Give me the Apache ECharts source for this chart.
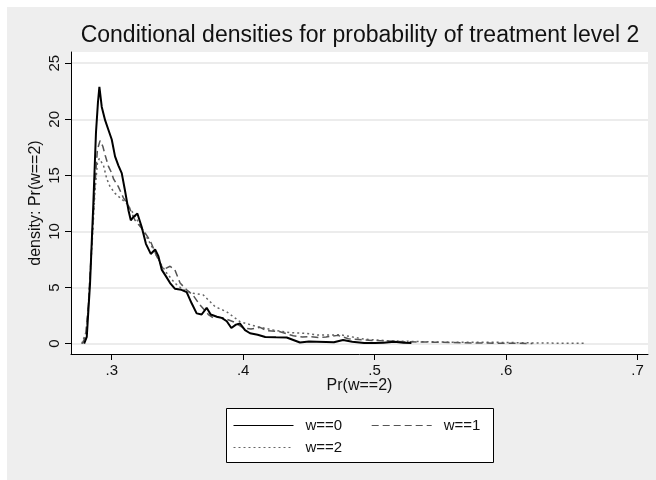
<!DOCTYPE html>
<html>
<head>
<meta charset="utf-8">
<script src="https://cdn.jsdelivr.net/npm/echarts@6/dist/echarts.min.js"></script>
<style>
  html, body { margin: 0; padding: 0; background: #fff; }
  #main { position: absolute; left: 7px; top: 7px; width: 649px; height: 473px; background: #eeeeee; }
</style>
</head>
<body>
<div id="main"></div>
<script>
// kernel density estimates
const w0X = [0.2790, 0.2810, 0.2835, 0.2860, 0.2880, 0.2895, 0.2906, 0.2924, 0.2950, 0.2975, 0.3000, 0.3025, 0.3050, 0.3076, 0.3100, 0.3127, 0.3145, 0.3165, 0.3195, 0.3228, 0.3260, 0.3297, 0.3330, 0.3355, 0.3380, 0.3413, 0.3444, 0.3480, 0.3530, 0.3570, 0.3608, 0.3646, 0.3684, 0.3722, 0.3753, 0.3800, 0.3837, 0.3875, 0.3910, 0.3945, 0.3976, 0.4014, 0.4052, 0.4110, 0.4168, 0.4250, 0.4331, 0.4432, 0.4500, 0.4560, 0.4630, 0.4690, 0.4760, 0.4830, 0.4920, 0.5000, 0.5067, 0.5150, 0.5220, 0.5280]
const w0Y = [0, 0.6, 5.4, 12.5, 18.8, 21.5, 22.9, 21.1, 19.9, 19.05, 18.2, 16.7, 15.9, 15.2, 13.7, 11.9, 11.0, 11.3, 11.6, 10.4, 8.9, 8.0, 8.4, 7.8, 6.6, 6.0, 5.4, 4.9, 4.8, 4.6, 3.6, 2.7, 2.6, 3.2, 2.6, 2.4, 2.3, 2.0, 1.4, 1.7, 1.8, 1.2, 0.93, 0.8, 0.6, 0.57, 0.55, 0.1, 0.2, 0.18, 0.15, 0.12, 0.32, 0.18, 0.06, 0.06, 0.08, 0.18, 0.08, 0.05]

const w1X = [0.2775, 0.2800, 0.2823, 0.2848, 0.2873, 0.2891, 0.2911, 0.2932, 0.2950, 0.2975, 0.3000, 0.3013, 0.3050, 0.3089, 0.3127, 0.3177, 0.3240, 0.3292, 0.3342, 0.3393, 0.3444, 0.3480, 0.3520, 0.3570, 0.3620, 0.3671, 0.3735, 0.3773, 0.3800, 0.3849, 0.3925, 0.4000, 0.4060, 0.4128, 0.4179, 0.4280, 0.4381, 0.4450, 0.4508, 0.4580, 0.4630, 0.4720, 0.4800, 0.4980, 0.5210, 0.5500, 0.5790, 0.6000, 0.6200]
const w1Y = [0, 0.6, 3.6, 8.9, 14.3, 17.3, 18.1, 17.6, 16.8, 15.8, 15.2, 14.7, 14.0, 13.0, 12.3, 11.0, 10.1, 9.2, 7.8, 6.6, 6.9, 6.6, 5.4, 4.8, 4.3, 3.45, 2.6, 2.3, 2.35, 2.3, 1.96, 1.4, 1.3, 1.46, 1.16, 1.07, 0.7, 0.6, 0.62, 0.55, 0.59, 0.74, 0.44, 0.29, 0.18, 0.12, 0.06, 0.04, 0.02]

const w2X = [0.2772, 0.2810, 0.2848, 0.2873, 0.2891, 0.2905, 0.2937, 0.2962, 0.2987, 0.3025, 0.3063, 0.3114, 0.3165, 0.3215, 0.3266, 0.3317, 0.3368, 0.3418, 0.3480, 0.3545, 0.3620, 0.3697, 0.3786, 0.3874, 0.3976, 0.4103, 0.4229, 0.4356, 0.4483, 0.4570, 0.4740, 0.4920, 0.5096, 0.5360, 0.5650, 0.5940, 0.6230, 0.6600]
const w2Y = [0, 1.2, 8.4, 13.7, 16.1, 16.5, 15.9, 14.7, 14.0, 13.4, 13.0, 12.5, 11.6, 10.6, 9.5, 8.4, 7.2, 6.3, 5.4, 4.8, 4.5, 4.34, 3.3, 2.85, 1.96, 1.52, 1.22, 0.98, 0.92, 0.77, 0.79, 0.41, 0.26, 0.18, 0.12, 0.12, 0.06, 0.03]

const xTicks = [0.3, 0.4, 0.5, 0.6, 0.7]
const yTicks = [0, 5, 10, 15, 20, 25]

const pairs = (xs, ys) => xs.map((x, i) => [x, ys[i]])
const font = '"Liberation Sans", Arial, sans-serif'
const noDot = { color: 'rgba(0,0,0,0)', borderWidth: 0, opacity: 0 }

const chart = echarts.init(document.getElementById('main'))
chart.setOption({
  animation: false,
  textStyle: { fontFamily: font },
  title: {
    text: 'Conditional densities for probability of treatment level 2',
    left: 353,
    top: 17,
    padding: 0,
    textAlign: 'center',
    textStyle: { fontFamily: font, fontSize: 23, fontWeight: 'normal', color: '#111' },
  },
  grid: { left: 64, top: 45, right: 8, bottom: 126, show: true, backgroundColor: '#fff', borderWidth: 0 },
  xAxis: {
    type: 'value',
    min: 0.269,
    max: 0.708,
    name: 'Pr(w==2)',
    nameLocation: 'middle',
    nameGap: 24,
    nameMoveOverlap: false,
    nameTextStyle: { fontFamily: font, fontSize: 16, color: '#111' },
    axisLine: { show: true, onZero: false, lineStyle: { color: '#000', width: 1 } },
    axisTick: { show: true, length: 6, customValues: xTicks, lineStyle: { color: '#000' } },
    axisLabel: {
      customValues: xTicks,
      margin: 9,
      fontSize: 15,
      color: '#111',
      formatter: (v) => String(Math.round(v * 10) / 10).replace(/^0/, ''),
    },
    splitLine: { show: false },
  },
  yAxis: {
    type: 'value',
    min: -0.92,
    max: 26,
    name: 'density: Pr(w==2)',
    nameLocation: 'middle',
    nameGap: 27,
    nameMoveOverlap: false,
    nameTextStyle: { fontFamily: font, fontSize: 16, color: '#111' },
    axisLine: { show: true, onZero: false, lineStyle: { color: '#000', width: 1 } },
    axisTick: { show: true, length: 6, customValues: yTicks, lineStyle: { color: '#000' } },
    axisLabel: { customValues: yTicks, rotate: 90, margin: 9, fontSize: 15, color: '#111' },
    splitLine: { show: true, lineStyle: { color: '#e6e6e6', width: 1.5 } },
  },
  graphic: [
    {
      type: 'rect',
      left: 219,
      top: 401,
      shape: { width: 267, height: 54 },
      style: { fill: '#fff', stroke: '#000', lineWidth: 1 },
      z: 0,
    },
  ],
  legend: [
    {
      data: ['w==0', 'w==1'],
      left: 226,
      top: 411,
      padding: 0,
      itemWidth: 60,
      itemHeight: 14,
      itemGap: 29,
      itemStyle: noDot,
      lineStyle: { width: 1 },
      textStyle: { fontFamily: font, fontSize: 15, color: '#111', padding: [0, 0, 0, 7] },
      z: 5,
    },
    {
      data: ['w==2'],
      left: 226,
      top: 433,
      padding: 0,
      itemWidth: 60,
      itemHeight: 14,
      itemStyle: noDot,
      lineStyle: { width: 1 },
      textStyle: { fontFamily: font, fontSize: 15, color: '#111', padding: [0, 0, 0, 7] },
      z: 5,
    },
  ],
  series: [
    {
      name: 'w==0',
      type: 'line',
      data: pairs(w0X, w0Y),
      symbol: 'none',
      color: '#000',
      lineStyle: { color: '#000', width: 2 },
      z: 4,
    },
    {
      name: 'w==1',
      type: 'line',
      data: pairs(w1X, w1Y),
      symbol: 'none',
      color: '#555',
      lineStyle: { color: '#555', width: 1.5, type: [7, 4] },
      z: 3,
    },
    {
      name: 'w==2',
      type: 'line',
      data: pairs(w2X, w2Y),
      symbol: 'none',
      color: '#666',
      lineStyle: { color: '#666', width: 1.5, type: [2, 3] },
      z: 2,
    },
  ],
})
</script>
</body>
</html>
